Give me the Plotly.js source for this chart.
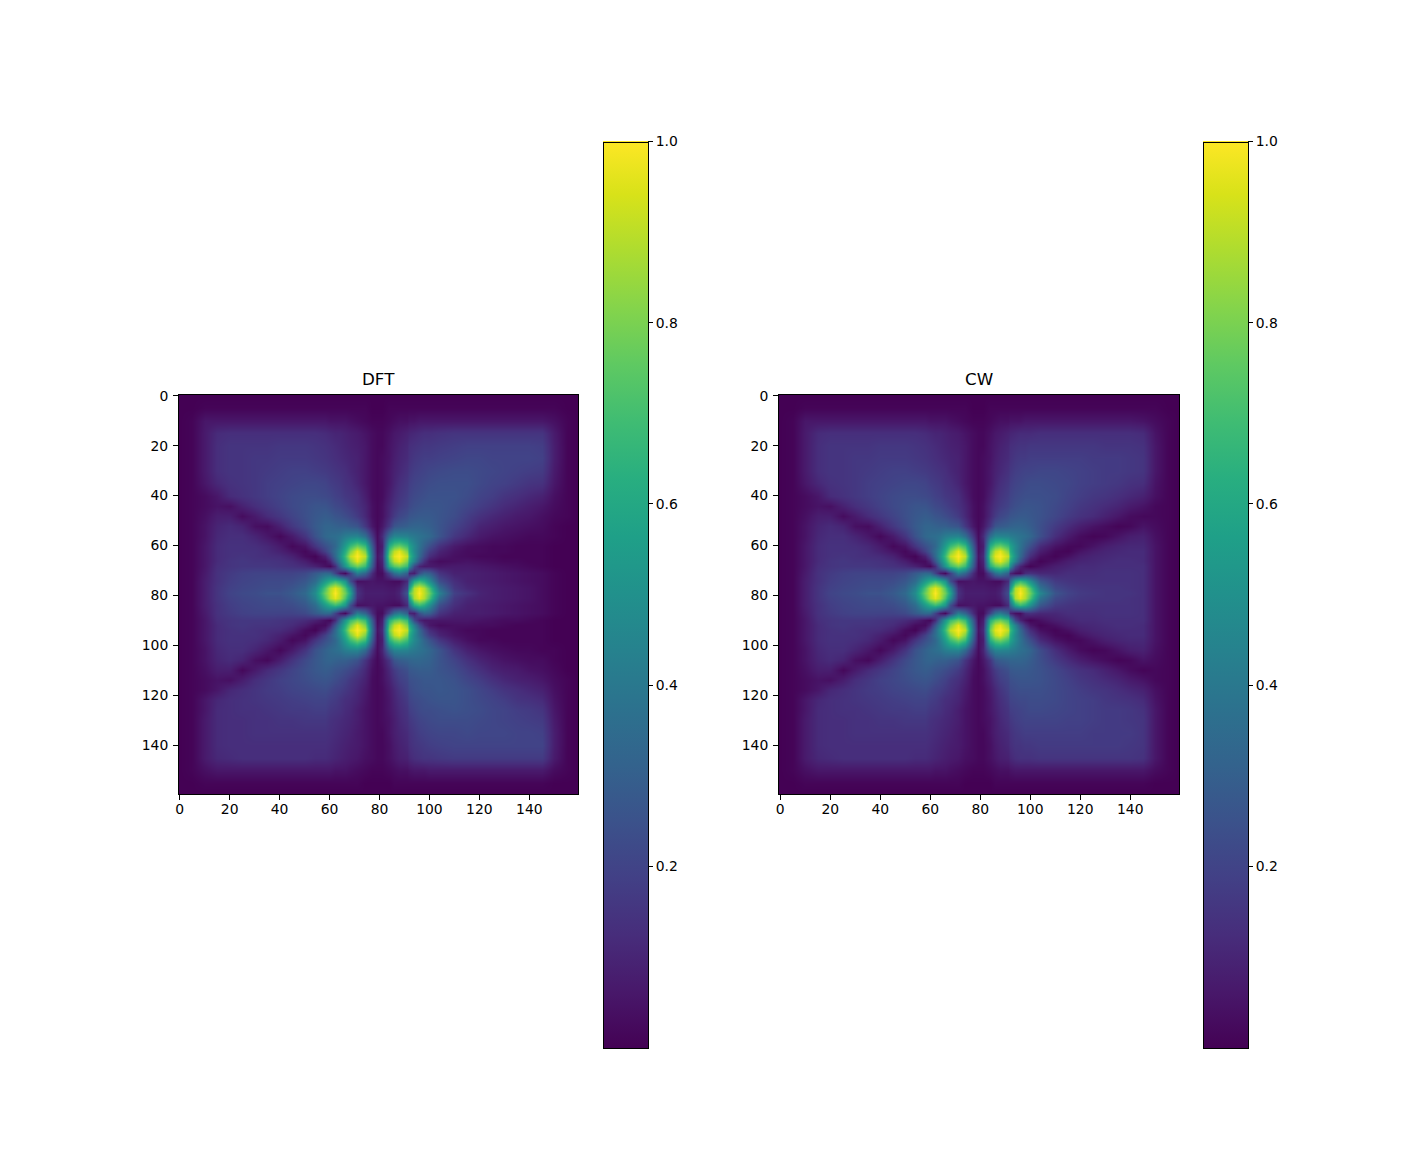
<!DOCTYPE html>
<html><head><meta charset="utf-8">
<script src="https://cdn.plot.ly/plotly-3.0.1.min.js"></script>
<style>html,body{margin:0;padding:0;background:#fff}.cboutline{shape-rendering:crispEdges !important}</style></head>
<body><div id="chart" style="width:1421px;height:1176px"></div>
<script>
const leftX=[0,5,10,15,20,25,30,35,40,45,50,54,58,60,62,64,66,68,71,74,77,79];
const rightX=[81,84,86,88,91,92,94,96,98,100,104,110,115,120,125,130,135,140,145,150,155,159];
const rowY=[0,5,10,15,20,25,30,35,40,44,48,52,56,60,62,64,66,68,71,74,77,79,81,84,87,90,92,94,96,98,102,106,110,114,118,122,126,130,135,140,145,150,155,159];
const tickLabels=[0,20,40,60,80,100,120,140];
const colorTicks=[0.2,0.4,0.6,0.8,1.0];
// values, in hundredths; the two panels' left halves read the same
const leftPct=[
[0,0,0,0,0,0,0,0,0,0,0,0,0,0,0,0,0,0,0,0,0,0],
[0,0,1,1,1,1,1,1,1,1,1,1,1,1,1,1,1,1,1,1,0,0],
[0,1,6,6,6,6,6,6,6,6,6,6,6,5,5,5,5,4,3,2,1,1],
[0,1,7,12,13,13,13,13,13,13,13,13,12,11,10,10,9,8,7,5,3,2],
[0,1,7,13,15,15,15,15,16,16,16,15,14,13,12,11,10,9,8,6,3,2],
[0,1,7,13,15,15,16,16,17,17,17,16,15,14,13,12,11,10,9,6,3,2],
[0,1,7,13,15,15,16,17,18,19,19,18,17,16,15,14,13,11,9,6,3,2],
[0,1,6,11,14,15,16,18,19,20,21,21,20,18,17,16,14,13,10,6,3,2],
[0,1,3,6,12,14,16,18,20,22,23,23,22,21,19,18,16,15,13,8,3,2],
[0,1,3,5,4,9,13,16,19,22,24,26,26,24,22,21,19,17,14,10,4,2],
[0,1,4,8,8,3,7,12,16,20,24,27,29,28,26,25,23,21,17,11,4,2],
[0,1,5,10,12,10,4,3,9,16,22,28,32,32,31,30,30,28,26,16,6,2],
[0,1,5,11,13,13,10,6,2,7,15,25,33,35,36,38,42,44,45,36,16,3],
[0,1,6,12,14,14,13,11,7,2,5,15,24,28,33,43,55,68,78,68,28,4],
[0,1,6,12,14,14,14,12,9,5,2,7,19,27,36,47,62,80,96,80,33,4],
[0,1,6,12,14,15,14,13,12,9,3,1,9,20,34,50,68,90,100,90,36,5],
[0,1,6,12,15,16,15,15,14,12,8,3,3,10,26,44,62,80,96,80,33,4],
[0,1,6,13,15,16,16,16,15,14,12,9,4,2,12,33,52,68,78,68,28,3],
[0,1,7,14,17,19,20,20,20,20,22,28,34,33,20,7,2,18,42,32,12,3],
[0,1,8,14,18,20,21,22,22,23,27,35,54,62,68,62,52,24,4,5,6,5],
[0,1,8,15,19,21,22,23,23,26,31,44,72,88,96,88,72,50,12,7,7,7],
[0,1,8,15,20,22,23,25,25,28,34,48,78,90,100,90,78,58,14,8,8,8],
[0,1,8,15,19,21,22,23,23,26,31,44,72,88,96,88,72,50,12,7,7,7],
[0,1,8,14,18,20,21,22,22,23,27,35,54,62,68,62,52,24,4,5,6,5],
[0,1,7,14,17,19,20,20,20,20,22,28,34,33,20,7,2,18,42,32,12,3],
[0,1,6,13,15,16,16,16,15,14,12,9,4,2,12,33,52,68,78,68,28,3],
[0,1,6,12,15,16,15,15,14,12,8,3,3,10,26,44,62,80,96,80,33,4],
[0,1,6,12,14,15,14,13,12,9,3,1,9,20,34,50,68,90,100,90,36,5],
[0,1,6,12,14,14,14,12,9,5,2,7,19,27,36,47,62,80,96,80,33,4],
[0,1,6,12,14,14,13,11,7,2,5,15,24,28,33,43,55,68,78,68,28,4],
[0,1,5,11,13,13,10,6,2,7,15,25,31,34,36,38,42,44,45,34,14,3],
[0,1,5,10,12,10,4,2,8,15,22,27,31,32,31,30,30,28,25,15,6,2],
[0,1,4,8,8,2,7,12,16,20,24,27,29,28,26,25,23,21,17,11,4,2],
[0,1,3,5,4,8,13,16,19,21,23,25,26,25,23,21,19,16,13,9,3,2],
[0,1,3,6,11,13,15,17,18,20,21,22,23,21,19,18,16,14,11,7,3,2],
[0,1,6,11,13,14,15,16,17,18,19,20,20,18,17,15,13,12,10,6,3,2],
[0,1,6,12,13,14,14,15,16,17,17,18,18,16,15,14,12,11,8,5,3,2],
[0,1,7,12,13,13,14,14,15,15,16,16,16,14,13,12,11,10,8,5,3,2],
[0,1,7,12,13,13,14,14,14,14,14,14,14,13,12,11,10,9,7,5,3,2],
[0,1,7,12,13,13,13,13,13,13,13,13,13,12,11,10,9,8,7,5,3,2],
[0,1,7,11,12,13,13,13,13,13,13,12,12,11,10,9,8,7,6,4,3,2],
[0,1,4,6,6,6,6,6,6,6,6,6,6,6,5,5,5,4,3,2,1,1],
[0,0,1,1,1,1,1,1,1,1,1,1,1,1,1,1,1,1,1,0,0,0],
[0,0,0,0,0,0,0,0,0,0,0,0,0,0,0,0,0,0,0,0,0,0]
];
const dftRightPct=[
[0,0,0,0,0,0,0,0,0,0,0,0,0,0,0,0,0,0,0,0,0,0],
[0,1,1,1,1,1,1,1,1,1,1,1,1,1,1,1,1,1,1,1,0,0],
[1,2,3,4,4,5,5,6,6,6,6,6,6,6,6,6,6,6,6,4,1,0],
[2,4,6,7,9,10,11,12,13,13,14,15,15,15,15,15,15,15,15,7,1,0],
[2,5,7,9,11,13,14,15,16,16,17,18,19,19,19,19,19,19,18,8,1,0],
[3,5,8,10,12,14,16,17,18,18,19,20,21,21,20,20,20,20,19,8,1,0],
[3,6,9,11,14,16,18,19,20,21,22,23,23,22,21,20,19,18,17,7,1,0],
[3,6,10,13,16,18,20,21,22,23,24,24,24,22,20,19,17,15,14,6,1,0],
[3,8,12,15,18,20,22,23,24,25,25,25,23,20,18,15,13,11,9,4,1,0],
[4,10,14,17,20,22,24,25,26,26,26,24,21,18,15,12,10,8,6,3,1,0],
[4,11,17,21,24,26,27,28,28,28,26,23,18,14,11,9,7,6,4,2,1,0],
[6,16,26,28,30,31,32,32,31,30,26,20,15,10,8,6,5,4,3,1,0,0],
[12,36,45,45,44,42,40,38,36,34,26,16,11,7,5,4,3,2,2,1,0,0],
[8,62,74,78,68,58,47,38,30,24,14,7,4,3,2,2,1,1,1,0,0,0],
[10,72,90,96,80,62,47,36,26,18,10,5,3,3,2,2,1,1,1,0,0,0],
[12,78,96,100,90,68,50,34,22,13,7,4,3,2,2,1,1,1,1,0,0,0],
[10,72,90,96,80,62,44,26,14,6,3,4,5,4,3,2,2,1,1,0,0,0],
[8,62,74,78,68,48,22,10,7,7,6,7,7,6,5,4,3,2,1,0,0,0],
[3,20,36,42,30,10,8,24,32,30,15,9,9,8,7,6,5,4,3,1,0,0],
[5,4,3,3,12,34,60,68,62,50,24,13,9,8,7,6,5,4,3,1,0,0],
[7,6,6,8,20,56,88,96,88,72,36,16,11,9,8,7,6,5,3,1,0,0],
[8,7,7,10,27,72,90,100,90,78,44,19,14,10,8,7,6,5,3,1,0,0],
[7,6,6,8,20,56,88,96,88,72,36,16,11,9,8,7,6,5,3,1,0,0],
[5,4,3,3,12,34,60,68,62,50,24,13,9,8,7,6,5,4,3,1,0,0],
[3,20,36,42,30,10,8,24,32,30,15,9,8,8,7,6,5,4,3,1,0,0],
[8,62,74,78,68,48,22,10,6,6,6,6,6,5,4,3,3,2,1,0,0,0],
[10,72,90,96,80,62,42,24,12,6,3,4,4,3,3,2,1,1,1,0,0,0],
[12,78,96,100,90,68,50,34,22,13,7,4,2,2,1,1,1,1,1,0,0,0],
[10,72,90,96,80,62,47,36,26,18,10,5,3,2,1,1,1,1,1,0,0,0],
[8,62,74,78,68,58,47,40,32,26,16,8,4,2,2,1,1,1,1,0,0,0],
[10,34,44,45,44,42,40,38,36,33,26,15,9,6,4,3,2,2,1,1,0,0],
[6,15,26,29,31,32,33,33,32,31,26,20,14,10,7,5,4,3,3,1,0,0],
[4,11,17,21,24,27,28,29,29,29,26,23,18,14,10,8,7,5,4,2,0,0],
[4,9,14,18,21,24,25,26,27,27,27,25,21,18,14,11,9,8,6,3,1,0],
[3,7,11,15,19,22,24,25,26,26,27,26,24,21,18,15,13,11,9,4,1,0],
[3,6,10,13,17,20,22,23,24,25,26,26,24,22,20,18,15,14,12,5,1,0],
[3,6,9,12,15,18,20,22,23,23,24,25,24,23,21,20,18,17,15,6,1,0],
[3,5,8,11,14,16,18,20,21,22,23,23,23,22,21,20,19,18,17,7,1,0],
[2,5,8,10,12,14,16,18,19,20,21,21,22,21,21,21,20,20,19,8,1,0],
[2,4,7,9,11,13,15,16,17,18,19,20,20,20,20,20,20,20,20,8,1,0],
[2,4,6,8,9,11,13,14,15,15,16,17,17,17,17,17,17,17,17,7,1,0],
[1,2,3,4,4,5,6,6,6,7,7,7,7,7,7,7,7,7,7,3,1,0],
[0,0,1,1,1,1,1,1,1,1,1,1,1,1,1,1,1,1,1,0,0,0],
[0,0,0,0,0,0,0,0,0,0,0,0,0,0,0,0,0,0,0,0,0,0]
];
const cwRightPct=[
[0,0,0,0,0,0,0,0,0,0,0,0,0,0,0,0,0,0,0,0,0,0],
[0,1,1,1,1,1,1,1,1,1,1,1,1,1,1,1,1,1,1,1,0,0],
[1,2,3,4,4,5,5,5,6,6,6,6,6,6,6,6,6,6,5,3,1,0],
[2,4,6,7,9,10,11,12,12,12,13,13,13,13,13,13,13,13,12,5,1,0],
[2,5,7,9,11,13,14,15,15,16,16,16,16,16,16,15,15,15,14,6,1,0],
[3,5,8,10,12,14,16,17,17,18,18,18,18,18,17,17,17,16,15,6,1,0],
[3,6,9,11,14,16,18,19,20,20,21,21,20,19,18,17,17,16,15,6,1,0],
[3,6,10,13,16,18,20,21,22,23,23,22,21,19,18,17,16,14,13,5,1,0],
[3,8,12,15,18,20,22,23,24,24,24,23,20,18,16,15,13,11,9,4,1,0],
[4,10,14,17,20,22,24,25,26,26,25,22,19,16,14,12,10,7,5,2,1,0],
[4,11,17,21,24,26,27,28,28,27,25,21,17,14,12,9,6,3,2,2,1,0],
[6,16,26,28,30,31,32,32,31,29,24,17,12,8,5,3,1,2,5,3,1,0],
[12,36,45,45,44,42,40,38,36,33,24,13,7,3,1,2,5,8,9,4,1,0],
[8,62,74,78,68,58,47,38,30,24,12,5,2,2,5,8,10,11,11,5,1,0],
[10,72,90,96,80,62,47,36,26,18,8,2,1,5,8,10,11,12,12,5,1,0],
[12,78,96,100,90,68,50,34,22,13,4,1,4,8,10,11,12,12,12,5,1,0],
[10,72,90,96,80,62,44,26,14,6,1,4,8,10,11,12,13,13,12,5,1,0],
[8,62,74,78,68,48,22,10,4,1,4,8,10,12,12,13,13,13,13,5,1,0],
[3,20,36,42,30,10,4,3,12,14,11,11,13,13,13,14,14,14,13,5,1,0],
[5,4,3,3,12,34,58,68,62,50,27,17,15,14,14,14,14,14,13,5,1,0],
[7,6,6,8,20,52,88,96,88,72,38,22,18,16,15,15,15,14,13,5,1,0],
[8,7,7,10,24,68,90,100,90,78,46,26,20,17,16,15,15,15,13,5,1,0],
[7,6,6,8,20,52,88,96,88,72,38,22,18,16,15,15,15,14,13,5,1,0],
[5,4,3,3,12,34,58,68,62,50,27,17,15,14,14,14,14,14,13,5,1,0],
[3,20,36,42,30,10,4,3,12,14,11,11,13,13,13,14,14,14,13,5,1,0],
[8,62,74,78,68,48,22,10,4,1,4,8,10,12,12,13,13,13,13,5,1,0],
[10,72,90,96,80,62,44,26,14,6,1,4,8,10,11,12,13,13,12,5,1,0],
[12,78,96,100,90,68,50,34,22,13,4,1,4,8,10,11,12,12,12,5,1,0],
[10,72,90,96,80,62,47,36,26,18,8,2,1,5,8,10,11,12,12,5,1,0],
[8,62,74,78,68,58,47,38,30,24,12,5,2,2,5,8,10,11,11,5,1,0],
[10,34,44,45,44,42,40,37,35,32,23,13,7,3,1,2,5,8,9,4,1,0],
[6,15,26,29,31,32,32,32,31,29,24,17,12,8,5,3,1,2,5,3,1,0],
[4,11,17,21,24,27,28,28,28,27,25,21,17,14,12,9,6,3,1,2,1,0],
[4,9,14,18,21,24,25,26,26,26,25,22,19,16,14,12,10,7,5,2,1,0],
[3,7,11,15,19,22,23,24,24,24,24,22,20,18,16,15,13,11,9,4,1,0],
[3,6,10,13,17,20,21,22,22,23,23,22,20,19,18,16,15,14,12,5,1,0],
[3,6,9,12,15,18,19,20,21,22,22,21,20,19,18,17,17,16,14,6,1,0],
[3,5,8,11,14,16,18,19,20,20,20,20,19,19,18,17,17,16,15,6,1,0],
[2,5,8,10,12,14,16,17,18,18,18,18,18,18,17,17,17,17,15,6,1,0],
[2,4,7,9,11,13,15,15,16,16,17,17,17,17,17,17,17,16,15,6,1,0],
[2,4,6,8,9,11,13,14,14,14,15,15,15,15,15,15,15,15,14,6,1,0],
[1,2,3,4,4,5,6,6,6,6,6,6,6,6,6,6,6,6,6,3,1,0],
[0,0,1,1,1,1,1,1,1,1,1,1,1,1,1,1,1,1,1,0,0,0],
[0,0,0,0,0,0,0,0,0,0,0,0,0,0,0,0,0,0,0,0,0,0]
];
const W=1421,H=1176;
const FONT='"DejaVu Sans",sans-serif';
function hm(rightPct,xaxis,yaxis,cbLeft){
  return {type:'heatmap',x:leftX.concat(rightX),y:rowY,z:leftPct.map((r,i)=>r.concat(rightPct[i]).map(v=>v/100)),xaxis,yaxis,
    colorscale:'Viridis',zmin:0,zmax:1,zsmooth:'best',
    colorbar:{x:cbLeft/W,xref:'paper',xanchor:'left',xpad:0,y:(H-1047.5)/H,yref:'paper',yanchor:'bottom',ypad:0,
      len:906/H,lenmode:'fraction',thickness:45,thicknessmode:'pixels',outlinewidth:1,outlinecolor:'#000',
      tickmode:'array',tickvals:colorTicks,ticktext:colorTicks.map(v=>v.toFixed(1)),ticks:'outside',ticklen:5,tickwidth:1,tickcolor:'#000',
      tickfont:{family:FONT,size:13.9,color:'#000'}}};
}
const axisBase={tickmode:'array',tickvals:tickLabels,ticktext:tickLabels.map(String),ticks:'outside',ticklen:5,tickwidth:1,tickcolor:'#000',
  showline:true,mirror:true,linecolor:'#000',linewidth:1,showgrid:false,zeroline:false,tickfont:{family:FONT,size:13.9,color:'#000'}};
function xAxis(l,w,lo,anchor){return Object.assign({},axisBase,{domain:[l/W,(l+w)/W],anchor,range:[lo,159.5],ticklabelstandoff:-3});}
function yAxis(anchor){return Object.assign({},axisBase,{domain:[(H-794)/H,(H-395)/H],anchor,range:[159.5,-0.3],ticklabelstandoff:2});}
const layout={width:W,height:H,margin:{l:0,r:0,t:0,b:0},paper_bgcolor:'#fff',plot_bgcolor:'#fff',showlegend:false,
  xaxis:xAxis(179,399,-0.3,'y'),yaxis:yAxis('x'),xaxis2:xAxis(779,400,-0.5,'y2'),yaxis2:yAxis('x2'),
  annotations:[
    {text:'DFT',xref:'paper',yref:'paper',x:378.5/W,y:(H-390.5)/H,xanchor:'center',yanchor:'bottom',showarrow:false,font:{family:FONT,size:16.7,color:'#000'}},
    {text:'CW',xref:'paper',yref:'paper',x:978.8/W,y:(H-390.5)/H,xanchor:'center',yanchor:'bottom',showarrow:false,font:{family:FONT,size:16.7,color:'#000'}}
  ]};
Plotly.newPlot('chart',[hm(dftRightPct,'x','y',602.6),hm(cwRightPct,'x2','y2',1203.1)],layout,{displayModeBar:false,staticPlot:true}).then(()=>{
  // close the one-pixel gap Plotly leaves under the lowest colorbar fill
  document.querySelectorAll('.cbfills').forEach(g=>{
    let low=null,lowY=-Infinity;
    g.querySelectorAll('rect').forEach(r=>{const y=parseFloat(r.getAttribute('y'))+parseFloat(r.getAttribute('height'));if(y>lowY){lowY=y;low=r;}});
    if(low)low.setAttribute('height',parseFloat(low.getAttribute('height'))+2);
  });
});
</script></body></html>
